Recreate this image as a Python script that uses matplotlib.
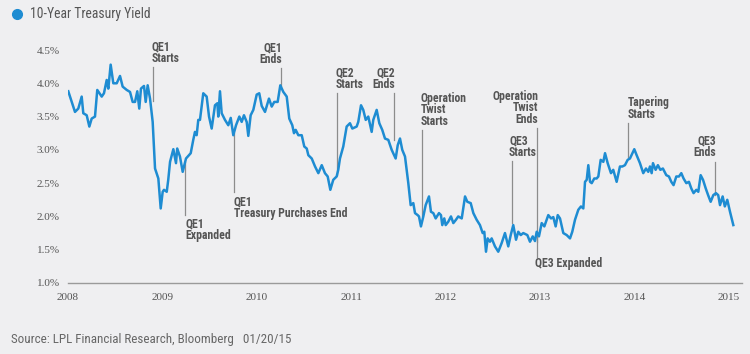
import matplotlib
matplotlib.use("Agg")
import matplotlib.pyplot as plt
from matplotlib.lines import Line2D

# ---------------- data ----------------
years = [
    2008.003, 2008.074, 2008.109, 2008.145, 2008.162, 2008.198, 2008.226, 2008.251, 2008.286, 2008.310,
    2008.357, 2008.381, 2008.410, 2008.427, 2008.452, 2008.480, 2008.516, 2008.551, 2008.579, 2008.622,
    2008.657, 2008.685, 2008.710, 2008.734, 2008.755, 2008.773, 2008.805, 2008.823, 2008.844, 2008.869,
    2008.897, 2008.922, 2008.957, 2008.982, 2009.003, 2009.017, 2009.046, 2009.062, 2009.081, 2009.116,
    2009.144, 2009.157, 2009.186, 2009.215, 2009.250, 2009.300, 2009.327, 2009.345, 2009.363, 2009.380,
    2009.398, 2009.433, 2009.469, 2009.494, 2009.522, 2009.557, 2009.582, 2009.592, 2009.610, 2009.628,
    2009.663, 2009.698, 2009.724, 2009.751, 2009.780, 2009.815, 2009.840, 2009.864, 2009.893, 2009.910,
    2009.935, 2009.963, 2009.999, 2010.026, 2010.052, 2010.087, 2010.129, 2010.158, 2010.185, 2010.221,
    2010.249, 2010.281, 2010.317, 2010.344, 2010.376, 2010.394, 2010.412, 2010.440, 2010.476, 2010.503,
    2010.529, 2010.546, 2010.582, 2010.617, 2010.652, 2010.688, 2010.722, 2010.751, 2010.779, 2010.810,
    2010.846, 2010.863, 2010.881, 2010.916, 2010.952, 2010.987, 2011.012, 2011.058, 2011.075, 2011.104,
    2011.128, 2011.154, 2011.181, 2011.217, 2011.234, 2011.270, 2011.298, 2011.329, 2011.358, 2011.393,
    2011.429, 2011.471, 2011.493, 2011.517, 2011.541, 2011.570, 2011.605, 2011.630, 2011.658, 2011.676,
    2011.704, 2011.718, 2011.739, 2011.764, 2011.789, 2011.824, 2011.845, 2011.870, 2011.895, 2011.930,
    2011.951, 2011.965, 2011.986, 2012.001, 2012.028, 2012.057, 2012.082, 2012.110, 2012.134, 2012.171,
    2012.206, 2012.230, 2012.266, 2012.294, 2012.329, 2012.364, 2012.393, 2012.410, 2012.428, 2012.446,
    2012.470, 2012.488, 2012.523, 2012.558, 2012.594, 2012.629, 2012.664, 2012.690, 2012.717, 2012.746,
    2012.770, 2012.796, 2012.823, 2012.866, 2012.894, 2012.923, 2012.947, 2012.965, 2012.989, 2013.018,
    2013.046, 2013.088, 2013.117, 2013.141, 2013.166, 2013.188, 2013.212, 2013.247, 2013.283, 2013.318,
    2013.342, 2013.371, 2013.406, 2013.434, 2013.459, 2013.477, 2013.495, 2013.512, 2013.530, 2013.548,
    2013.575, 2013.600, 2013.618, 2013.643, 2013.671, 2013.689, 2013.717, 2013.752, 2013.776, 2013.812,
    2013.847, 2013.872, 2013.900, 2013.929, 2013.953, 2013.999, 2014.024, 2014.059, 2014.094, 2014.123,
    2014.147, 2014.165, 2014.183, 2014.197, 2014.225, 2014.249, 2014.275, 2014.302, 2014.338, 2014.366,
    2014.391, 2014.415, 2014.444, 2014.472, 2014.497, 2014.521, 2014.550, 2014.578, 2014.603, 2014.627,
    2014.656, 2014.677, 2014.702, 2014.727, 2014.756, 2014.781, 2014.808, 2014.836, 2014.864, 2014.888,
    2014.907, 2014.935, 2014.958, 2014.984, 2015.013, 2015.048,
]
yields = [
    3.88, 3.57, 3.62, 3.80, 3.55, 3.52, 3.35, 3.47, 3.50, 3.90,
    3.80, 3.85, 4.05, 3.92, 4.28, 4.00, 4.00, 4.11, 3.95, 3.90,
    3.87, 3.72, 3.72, 3.88, 3.62, 3.92, 3.96, 3.72, 3.97, 3.77,
    3.42, 2.72, 2.57, 2.12, 2.37, 2.40, 2.37, 2.55, 2.82, 3.01,
    2.80, 3.02, 2.90, 2.67, 2.87, 2.95, 3.15, 3.27, 3.22, 3.45,
    3.45, 3.85, 3.80, 3.50, 3.32, 3.67, 3.70, 3.50, 3.88, 3.55,
    3.45, 3.37, 3.48, 3.22, 3.37, 3.50, 3.42, 3.52, 3.42, 3.21,
    3.52, 3.60, 3.83, 3.85, 3.66, 3.57, 3.77, 3.65, 3.72, 3.72,
    3.97, 3.87, 3.80, 3.47, 3.37, 3.25, 3.30, 3.22, 3.22, 3.05,
    3.02, 2.92, 2.87, 2.75, 2.65, 2.77, 2.65, 2.60, 2.40, 2.55,
    2.60, 2.70, 2.87, 3.05, 3.35, 3.40, 3.32, 3.35, 3.42, 3.67,
    3.60, 3.45, 3.50, 3.27, 3.45, 3.60, 3.40, 3.30, 3.17, 3.15,
    3.00, 2.87, 3.07, 3.17, 3.00, 2.90, 2.50, 2.17, 2.20, 2.05,
    2.02, 2.00, 1.85, 2.00, 2.17, 2.30, 2.07, 2.05, 1.97, 2.05,
    2.02, 1.87, 1.97, 1.87, 1.92, 2.00, 1.90, 1.95, 2.00, 1.97,
    2.30, 2.22, 2.20, 2.05, 1.95, 1.87, 1.75, 1.77, 1.47, 1.67,
    1.62, 1.67, 1.55, 1.47, 1.60, 1.75, 1.55, 1.72, 1.87, 1.65,
    1.77, 1.72, 1.75, 1.72, 1.62, 1.70, 1.63, 1.77, 1.70, 1.90,
    1.85, 2.02, 1.97, 1.99, 1.85, 2.02, 1.97, 1.75, 1.72, 1.67,
    1.77, 1.95, 2.10, 2.15, 2.12, 2.52, 2.55, 2.77, 2.52, 2.50,
    2.57, 2.57, 2.60, 2.85, 2.82, 2.95, 2.80, 2.65, 2.70, 2.52,
    2.75, 2.75, 2.77, 2.85, 2.87, 3.01, 2.92, 2.80, 2.65, 2.72,
    2.67, 2.75, 2.65, 2.80, 2.70, 2.77, 2.70, 2.72, 2.62, 2.60,
    2.52, 2.47, 2.60, 2.60, 2.65, 2.57, 2.50, 2.52, 2.42, 2.35,
    2.40, 2.37, 2.62, 2.55, 2.42, 2.32, 2.22, 2.32, 2.35, 2.32,
    2.17, 2.30, 2.15, 2.25, 2.07, 1.87,
]

x_ticks = [2008, 2009, 2010, 2011, 2012, 2013, 2014, 2015]
x_tick_labels = ["2008", "2009", "2010", "2011", "2012", "2013", "2014", "2015"]
y_ticks = [1.0, 1.5, 2.0, 2.5, 3.0, 3.5, 4.0, 4.5]
y_tick_labels = ["1.0%", "1.5%", "2.0%", "2.5%", "3.0%", "3.5%", "4.0%", "4.5%"]

event_labels = ["QE1\nStarts", "QE1\nExpanded", "QE1\nTreasury Purchases End", "QE1\nEnds",
                "QE2\nStarts", "QE2\nEnds", "Operation\nTwist\nStarts", "QE3\nStarts",
                "Operation\nTwist\nEnds", "QE3 Expanded", "Tapering\nStarts", "QE3\nEnds"]
event_dates = [2008.904, 2009.243, 2009.762, 2010.253, 2010.846, 2011.457, 2011.747,
               2012.707, 2012.965, 2012.965, 2013.935, 2014.854]

series_label = "10-Year Treasury Yield"
source_text = "Source: LPL Financial Research, Bloomberg   01/20/15"

# ---------------- style ----------------
BG = "#EFEFF1"
BLUE = "#1E8CD2"
TXT = "#555555"
LINEC = "#8C8C8C"
COND = ["Roboto Condensed", "Roboto", "DejaVu Sans"]
SERIF = ["Liberation Serif", "DejaVu Serif"]

fig = plt.figure(figsize=(7.5, 3.54), dpi=100, facecolor=BG)
ax = fig.add_axes([68 / 750, 1 - 283 / 354, (742 - 68) / 750, (283 - 50) / 354])
ax.set_facecolor(BG)

ax.plot(years, yields, color=BLUE, lw=1.8, solid_joinstyle="round", zorder=3)

ax.set_xlim(2008, 2015.14)
ax.set_ylim(1.0, 4.5)
ax.set_xticks(x_ticks)
ax.set_xticklabels(x_tick_labels, family=SERIF, fontsize=8, color=TXT)
ax.set_yticks(y_ticks)
ax.set_yticklabels(y_tick_labels, family=SERIF, fontsize=8, color=TXT)
ax.tick_params(axis="both", length=0)
ax.tick_params(axis="y", pad=6)
ax.tick_params(axis="x", pad=7)
for s in ["left", "right", "top"]:
    ax.spines[s].set_visible(False)
ax.spines["bottom"].set_color("#9A9A9A")
ax.spines["bottom"].set_linewidth(1.0)

# annotation geometry: (line_y0, line_y1, text_x, text_y, ha, va)
geom = [
    (4.24, 3.74, 2008.887, 4.27, "left", "bottom"),
    (2.82, 2.02, 2009.240, 1.98, "left", "top"),
    (3.25, 2.37, 2009.757, 2.32, "left", "top"),
    (4.23, 3.96, 2010.267, 4.26, "right", "bottom"),
    (3.85, 2.62, 2010.836, 3.88, "left", "bottom"),
    (3.85, 3.15, 2011.464, 3.88, "right", "bottom"),
    (3.30, 2.00, 2011.736, 3.33, "left", "bottom"),
    (2.83, 1.90, 2012.672, 2.86, "left", "bottom"),
    (3.33, 1.62, 2012.979, 3.36, "right", "bottom"),
    (1.70, 1.39, 2012.947, 1.29, "left", "center"),
    (3.40, 2.89, 2013.929, 3.44, "left", "bottom"),
    (2.82, 2.32, 2014.864, 2.86, "right", "bottom"),
]
for lab, xd, (y0, y1, tx, ty, ha, va) in zip(event_labels, event_dates, geom):
    ax.plot([xd, xd], [y0, y1], color=LINEC, lw=0.9, zorder=2, clip_on=False)
    ax.text(tx, ty, lab, ha=ha, va=va, family=COND, fontweight="bold",
            fontstretch="condensed", fontsize=8.5, color=TXT, linespacing=0.85,
            clip_on=False)

# legend
fig.add_artist(Line2D([17 / 750], [1 - 14 / 354], marker="o", markersize=7,
                      color=BLUE, linestyle="none", transform=fig.transFigure))
fig.text(30 / 750, 1 - 14 / 354, series_label, ha="left", va="center",
         family=COND, fontstretch="condensed", fontsize=9.8, color=TXT)

# source
fig.text(11 / 750, 1 - 340 / 354, source_text, ha="left", va="center",
         family=COND, fontstretch="condensed", fontsize=9.4, color="#666666")

fig.savefig("out.png", dpi=100, facecolor=BG)
